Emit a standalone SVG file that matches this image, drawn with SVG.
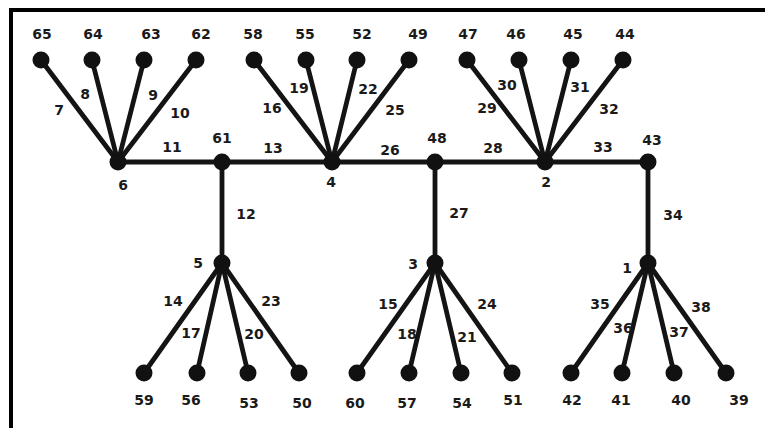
<svg xmlns="http://www.w3.org/2000/svg" width="765" height="428" viewBox="0 0 765 428">
<style>
.e{stroke:#141414;stroke-width:4.8;fill:none;stroke-linecap:round}
.n{fill:#111}
.t{font-family:"DejaVu Sans","Liberation Sans",Arial,sans-serif;font-weight:bold;font-size:14px;fill:#1a1a1a;text-anchor:middle;dominant-baseline:central}
</style>
<rect width="765" height="428" fill="#fff"/>
<rect x="11" y="10" width="780" height="440" fill="none" stroke="#000" stroke-width="4"/>
<g id="connectors">
<line class="e" x1="118" y1="162" x2="41" y2="60"/>
<line class="e" x1="118" y1="162" x2="92" y2="60"/>
<line class="e" x1="118" y1="162" x2="144" y2="60"/>
<line class="e" x1="118" y1="162" x2="196" y2="60"/>
<line class="e" x1="118" y1="162" x2="648" y2="162"/>
<line class="e" x1="222" y1="162" x2="222" y2="263"/>
<line class="e" x1="332" y1="162" x2="254" y2="60"/>
<line class="e" x1="332" y1="162" x2="306" y2="60"/>
<line class="e" x1="332" y1="162" x2="357" y2="60"/>
<line class="e" x1="332" y1="162" x2="409" y2="60"/>
<line class="e" x1="435" y1="162" x2="435" y2="263"/>
<line class="e" x1="545" y1="162" x2="467" y2="60"/>
<line class="e" x1="545" y1="162" x2="519" y2="60"/>
<line class="e" x1="545" y1="162" x2="571" y2="60"/>
<line class="e" x1="545" y1="162" x2="623" y2="60"/>
<line class="e" x1="648" y1="162" x2="648" y2="263"/>
<line class="e" x1="222" y1="263" x2="144" y2="373"/>
<line class="e" x1="222" y1="263" x2="197" y2="373"/>
<line class="e" x1="222" y1="263" x2="248" y2="373"/>
<line class="e" x1="222" y1="263" x2="299" y2="373"/>
<line class="e" x1="435" y1="263" x2="357" y2="373"/>
<line class="e" x1="435" y1="263" x2="409" y2="373"/>
<line class="e" x1="435" y1="263" x2="461" y2="373"/>
<line class="e" x1="435" y1="263" x2="512" y2="373"/>
<line class="e" x1="648" y1="263" x2="571" y2="373"/>
<line class="e" x1="648" y1="263" x2="622" y2="373"/>
<line class="e" x1="648" y1="263" x2="674" y2="373"/>
<line class="e" x1="648" y1="263" x2="726" y2="373"/>
</g>
<g id="edge-labels">
<text class="t" x="59" y="110">7</text>
<text class="t" x="85" y="94">8</text>
<text class="t" x="153" y="95">9</text>
<text class="t" x="180" y="113">10</text>
<text class="t" x="172" y="147">11</text>
<text class="t" x="246" y="214">12</text>
<text class="t" x="273" y="148">13</text>
<text class="t" x="173" y="301">14</text>
<text class="t" x="388" y="304">15</text>
<text class="t" x="272" y="108">16</text>
<text class="t" x="191" y="333">17</text>
<text class="t" x="407" y="334">18</text>
<text class="t" x="299" y="88">19</text>
<text class="t" x="254" y="334">20</text>
<text class="t" x="467" y="337">21</text>
<text class="t" x="368" y="89">22</text>
<text class="t" x="271" y="301">23</text>
<text class="t" x="487" y="304">24</text>
<text class="t" x="395" y="110">25</text>
<text class="t" x="390" y="150">26</text>
<text class="t" x="459" y="213">27</text>
<text class="t" x="493" y="148">28</text>
<text class="t" x="487" y="108">29</text>
<text class="t" x="507" y="85">30</text>
<text class="t" x="580" y="87">31</text>
<text class="t" x="609" y="109">32</text>
<text class="t" x="603" y="147">33</text>
<text class="t" x="673" y="215">34</text>
<text class="t" x="600" y="304">35</text>
<text class="t" x="623" y="328">36</text>
<text class="t" x="679" y="332">37</text>
<text class="t" x="701" y="307">38</text>
</g>
<g id="n65"><circle class="n" cx="41" cy="60" r="8.5"/><text class="t" x="42" y="34">65</text></g>
<g id="n64"><circle class="n" cx="92" cy="60" r="8.5"/><text class="t" x="93" y="34">64</text></g>
<g id="n63"><circle class="n" cx="144" cy="60" r="8.5"/><text class="t" x="151" y="34">63</text></g>
<g id="n62"><circle class="n" cx="196" cy="60" r="8.5"/><text class="t" x="201" y="34">62</text></g>
<g id="n58"><circle class="n" cx="254" cy="60" r="8.5"/><text class="t" x="253" y="34">58</text></g>
<g id="n55"><circle class="n" cx="306" cy="60" r="8.5"/><text class="t" x="305" y="34">55</text></g>
<g id="n52"><circle class="n" cx="357" cy="60" r="8.5"/><text class="t" x="362" y="34">52</text></g>
<g id="n49"><circle class="n" cx="409" cy="60" r="8.5"/><text class="t" x="418" y="34">49</text></g>
<g id="n47"><circle class="n" cx="467" cy="60" r="8.5"/><text class="t" x="468" y="34">47</text></g>
<g id="n46"><circle class="n" cx="519" cy="60" r="8.5"/><text class="t" x="516" y="34">46</text></g>
<g id="n45"><circle class="n" cx="571" cy="60" r="8.5"/><text class="t" x="573" y="34">45</text></g>
<g id="n44"><circle class="n" cx="623" cy="60" r="8.5"/><text class="t" x="625" y="34">44</text></g>
<g id="n6"><circle class="n" cx="118" cy="162" r="8.5"/><text class="t" x="123" y="185">6</text></g>
<g id="n61"><circle class="n" cx="222" cy="162" r="8.5"/><text class="t" x="222" y="138">61</text></g>
<g id="n4"><circle class="n" cx="332" cy="162" r="8.5"/><text class="t" x="331" y="182">4</text></g>
<g id="n48"><circle class="n" cx="435" cy="162" r="8.5"/><text class="t" x="437" y="138">48</text></g>
<g id="n2"><circle class="n" cx="545" cy="162" r="8.5"/><text class="t" x="546" y="182">2</text></g>
<g id="n43"><circle class="n" cx="648" cy="162" r="8.5"/><text class="t" x="652" y="140">43</text></g>
<g id="n5"><circle class="n" cx="222" cy="263" r="8.5"/><text class="t" x="198" y="263">5</text></g>
<g id="n3"><circle class="n" cx="435" cy="263" r="8.5"/><text class="t" x="413" y="264">3</text></g>
<g id="n1"><circle class="n" cx="648" cy="263" r="8.5"/><text class="t" x="627" y="268">1</text></g>
<g id="n59"><circle class="n" cx="144" cy="373" r="8.5"/><text class="t" x="144" y="400">59</text></g>
<g id="n56"><circle class="n" cx="197" cy="373" r="8.5"/><text class="t" x="191" y="400">56</text></g>
<g id="n53"><circle class="n" cx="248" cy="373" r="8.5"/><text class="t" x="249" y="403">53</text></g>
<g id="n50"><circle class="n" cx="299" cy="373" r="8.5"/><text class="t" x="302" y="403">50</text></g>
<g id="n60"><circle class="n" cx="357" cy="373" r="8.5"/><text class="t" x="355" y="403">60</text></g>
<g id="n57"><circle class="n" cx="409" cy="373" r="8.5"/><text class="t" x="407" y="403">57</text></g>
<g id="n54"><circle class="n" cx="461" cy="373" r="8.5"/><text class="t" x="462" y="403">54</text></g>
<g id="n51"><circle class="n" cx="512" cy="373" r="8.5"/><text class="t" x="513" y="400">51</text></g>
<g id="n42"><circle class="n" cx="571" cy="373" r="8.5"/><text class="t" x="572" y="400">42</text></g>
<g id="n41"><circle class="n" cx="622" cy="373" r="8.5"/><text class="t" x="621" y="400">41</text></g>
<g id="n40"><circle class="n" cx="674" cy="373" r="8.5"/><text class="t" x="681" y="400">40</text></g>
<g id="n39"><circle class="n" cx="726" cy="373" r="8.5"/><text class="t" x="739" y="400">39</text></g>
</svg>
